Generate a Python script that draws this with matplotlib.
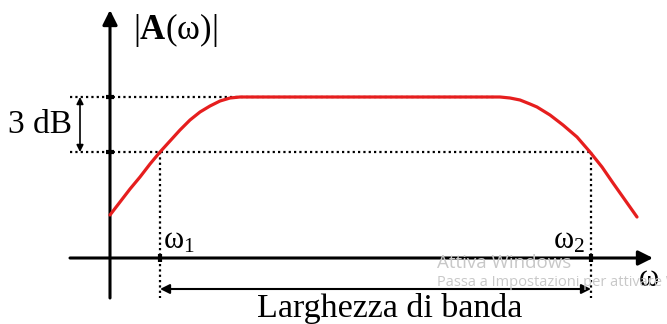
import matplotlib
matplotlib.use("Agg")
import matplotlib.pyplot as plt

plt.rcParams["font.family"] = ["Liberation Serif", "DejaVu Serif"]
plt.rcParams["mathtext.fontset"] = "custom"
plt.rcParams["mathtext.rm"] = "Liberation Serif"
plt.rcParams["mathtext.it"] = "Liberation Serif:italic"
plt.rcParams["mathtext.bf"] = "Liberation Serif:bold"

# band-pass response, sketch units
omega = [0, 10, 20, 30, 40, 50, 60, 70, 80, 90, 100, 110, 120, 130,
         390, 400, 410, 420, 427, 440, 453, 467, 480, 492, 503, 515, 527]
gain = [43, 56, 69, 81, 94, 106, 117, 128, 138, 146, 152, 157, 160, 161,
        161, 160, 158, 154, 151, 143, 133, 121, 106, 91, 75, 58, 41]

omega_1 = 50
omega_2 = 481
gain_peak = 161
gain_3db = 106
flat_end = 385

fig = plt.figure(figsize=(6.67, 3.24), dpi=100)
ax = fig.add_axes([0, 0, 1, 1])
ax.set_xlim(-110, 557)
ax.set_ylim(-66, 258)
ax.axis("off")

# axes with arrow heads
head = dict(arrowstyle="-|>", lw=2.2, color="black", mutation_scale=22,
            shrinkA=0, shrinkB=0)
ax.annotate("", xy=(0, 248), xytext=(0, -40), arrowprops=head)
ax.annotate("", xy=(543, 0), xytext=(-40, 0), arrowprops=head)

# -3 dB construction lines
dot = dict(color="black", ls=(0, (1, 1.4)), lw=1.6)
ax.plot([-40, flat_end], [gain_peak, gain_peak], **dot)
ax.plot([-40, omega_2], [gain_3db, gain_3db], **dot)
ax.plot([omega_1, omega_1], [gain_3db, -40], **dot)
ax.plot([omega_2, omega_2], [gain_3db, -40], **dot)

# small tick bars where the guides cross the axes
for g in (gain_peak, gain_3db):
    ax.plot([-4, 4], [g, g], color="black", lw=3, solid_capstyle="butt")
for w in (omega_1, omega_2):
    ax.plot([w, w], [-4, 4], color="black", lw=3, solid_capstyle="butt")

ax.plot(omega, gain, color="#e61e1e", lw=2.3, solid_joinstyle="round",
        solid_capstyle="round", zorder=5)

# 3 dB span
ax.annotate("", xy=(-30, gain_peak), xytext=(-30, gain_3db),
            arrowprops=dict(arrowstyle="<|-|>", lw=1.2, color="black",
                            mutation_scale=10, shrinkA=0, shrinkB=0))
ax.text(-70, (gain_peak + gain_3db) / 2, "3 dB", fontsize=24,
        ha="center", va="center")

# bandwidth span
ax.annotate("", xy=(omega_1, -31), xytext=(omega_2, -31),
            arrowprops=dict(arrowstyle="<|-|>", lw=1.5, color="black",
                            mutation_scale=14, shrinkA=0, shrinkB=0))
ax.text(280, -51, "Larghezza di banda", fontsize=24.5, ha="center", va="center")

ax.text(23, 228, r"$\mathrm{|}\mathbf{A}\mathrm{(ω)|}$", fontsize=25,
        ha="left", va="center")
ax.text(omega_1 + 3, 17, r"$\mathrm{ω}_{\mathrm{1}}$", fontsize=22,
        ha="left", va="center")
ax.text(omega_2 - 38, 17, r"$\mathrm{ω}_{\mathrm{2}}$", fontsize=22,
        ha="left", va="center")
ax.text(539, -20, "ω", fontsize=22, ha="center", va="center")

# activation watermark
ax.text(327, -5, "Attiva Windows", fontsize=13.5, color="#c8c8c8",
        family="Open Sans", ha="left", va="center")
ax.text(327, -24, "Passa a Impostazioni per attivare Windows.", fontsize=10.5,
        color="#c8c8c8", family="Open Sans", ha="left", va="center", clip_on=True)

fig.savefig("out.png", dpi=100, facecolor="white")
